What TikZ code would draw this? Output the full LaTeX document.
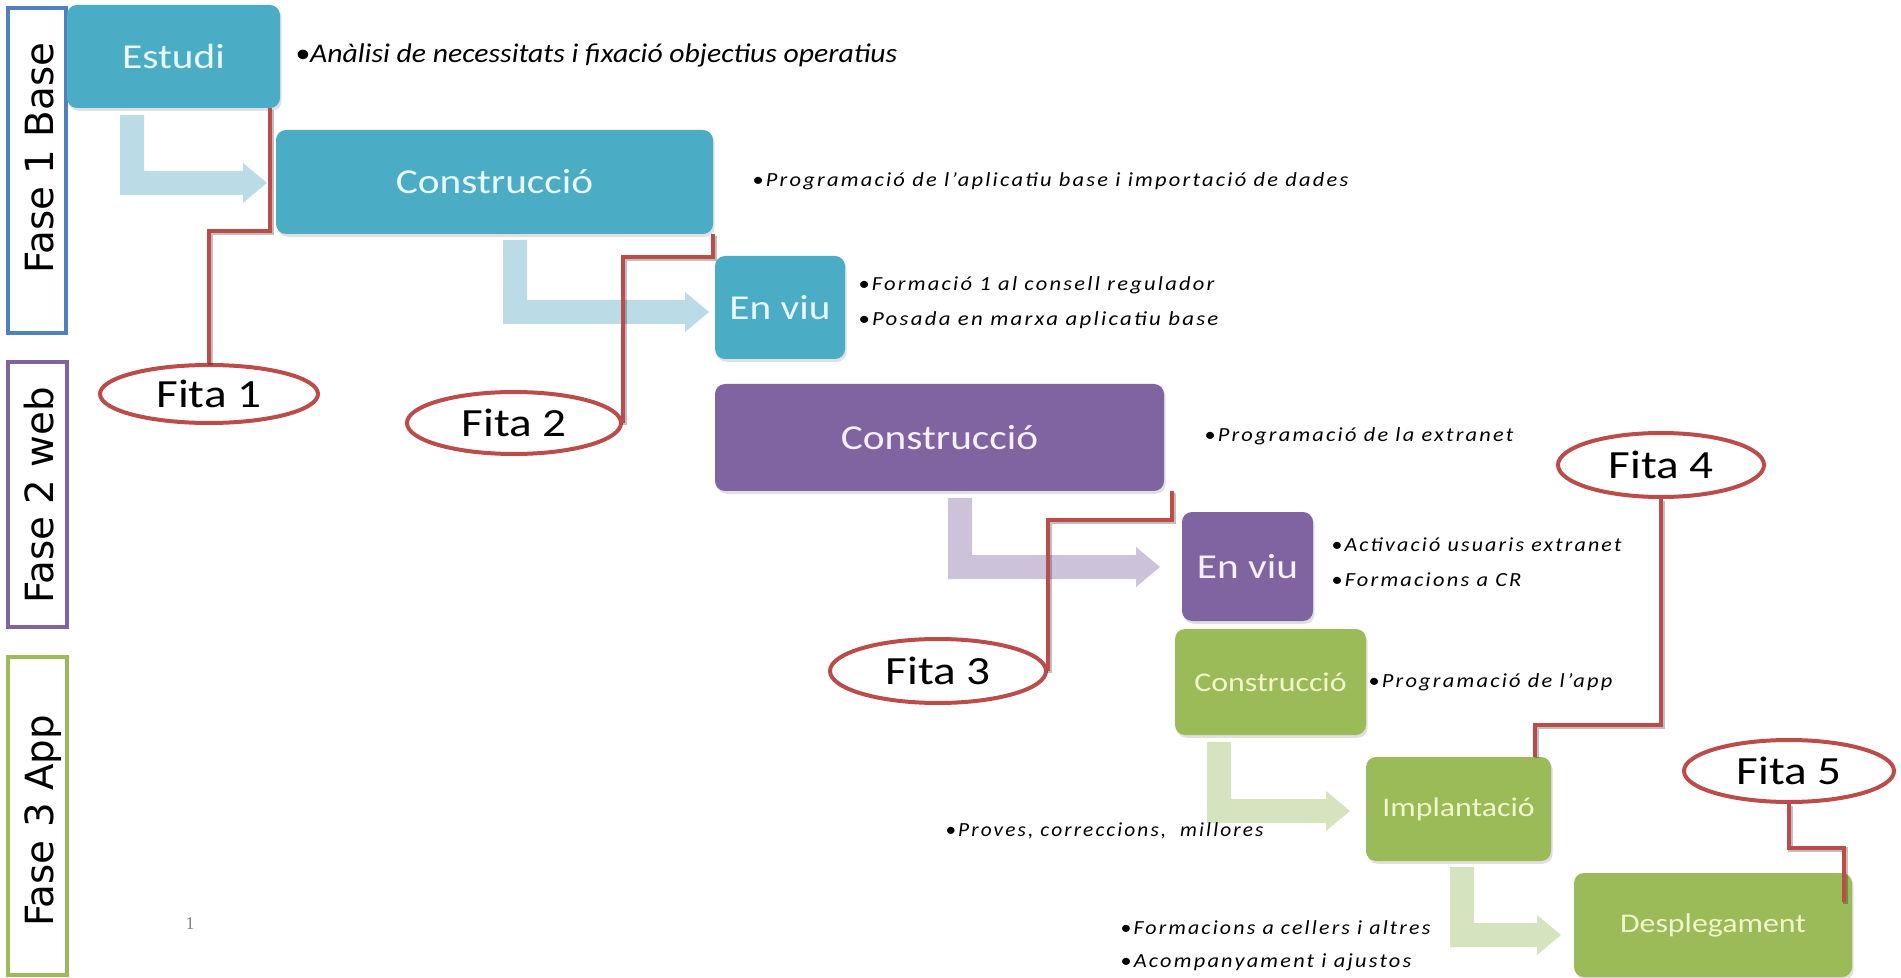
\documentclass[tikz,border=0pt]{standalone}
\usepackage{fontspec}
\usepackage{graphicx}
\setmainfont{Carlito}
\newfontfamily\fasefont{DejaVu Sans}
\newfontfamily\bulfont[LetterSpace=10]{Carlito}
\newfontfamily\numfont{Liberation Serif}
\usetikzlibrary{shapes.geometric}
\definecolor{cblue}{HTML}{4BACC6}
\definecolor{cpurp}{HTML}{8064A2}
\definecolor{cgreen}{HTML}{9BBB59}
\definecolor{cred}{HTML}{BC4C4A}
\definecolor{faseA}{HTML}{4F81BD}
\definecolor{ablue}{HTML}{BBDCE6}
\definecolor{apurp}{HTML}{CCC3DB}
\definecolor{agreen}{HTML}{D6E3BF}
\definecolor{tblue}{HTML}{EAF7FB}
\definecolor{tpurp}{HTML}{F6F0FA}
\definecolor{tgreen}{HTML}{F1F6CC}
\newcommand{\hs}[1]{\scalebox{1.18}[1]{#1}}
\newcommand{\bul}[2]{\resizebox{#1}{\height}{\bulfont\itshape\fontsize{10pt}{12pt}\selectfont #2}}
\newcommand{\barrow}[5]{\fill[#5] (#1,#2) -- ({#1+24},#2) -- ({#1+24},{#3-24}) -- ({#4-24},{#3-24}) -- ({#4-24},{#3-32}) -- (#4,{#3-12}) -- ({#4-24},{#3+8}) -- ({#4-24},#3) -- (#1,#3) -- cycle;}
\tikzset{
  box/.style={rounded corners=5pt, inner sep=0pt, align=center,
    preaction={fill=black, opacity=0.12, transform canvas={xshift=0.8pt,yshift=-1.4pt}}},
  bluebox/.style={box, fill=cblue, text=tblue, font=\fontsize{17.5pt}{20pt}\selectfont},
  purpbox/.style={box, fill=cpurp, text=tpurp, font=\fontsize{17.5pt}{20pt}\selectfont},
  greenbox/.style={box, fill=cgreen, text=tgreen, font=\fontsize{13.5pt}{16pt}\selectfont},
  fita/.style={ellipse, draw=cred, line width=2pt, fill=white, inner sep=0pt, font=\fontsize{20pt}{24pt}\selectfont},
  mile/.style={draw=cred, line width=2.2pt,
    preaction={draw=black, opacity=0.25, line width=2.2pt, transform canvas={xshift=0.8pt,yshift=-0.8pt}}},
  fasebox/.style={draw=#1, line width=1.6pt, inner sep=0pt},
  fasetext/.style={rotate=90, anchor=base, inner sep=0pt, font=\fasefont\fontsize{19.4pt}{22pt}\selectfont},
  bullet/.style={anchor=west, inner sep=0pt}
}
\begin{document}
\begin{tikzpicture}[x=0.5pt,y=-0.5pt]
\useasboundingbox (0,0) rectangle (1901,978);
\fill[white] (0,0) rectangle (1901,978);

% phase frames
\node[fasebox=faseA, minimum width=29pt, minimum height=162.5pt] (fb1) at (37,170.5) {};
\node[fasebox=cpurp, minimum width=29.5pt, minimum height=132.5pt] (fb2) at (37.5,494.5) {};
\node[fasebox=cgreen, minimum width=29.5pt, minimum height=159pt] (fb3) at (37.5,816) {};
\node[fasetext] (ft1) at (54,158) {Fase 1 Base};
\node[fasetext] (ft2) at (54,495) {Fase 2 web};
\node[fasetext] (ft3) at (54,821) {Fase 3 App};

% bent block arrows
\barrow{120}{115}{195}{267}{ablue}
\barrow{503}{240}{324}{709}{ablue}
\barrow{948}{498}{579}{1160}{apurp}
\barrow{1207}{742}{823}{1350}{agreen}
\barrow{1450}{867}{947}{1561}{agreen}

% boxes
\node[bluebox, minimum width=106.5pt, minimum height=51.5pt] (estudi) at (173.5,56.5) {\hs{Estudi}};
\node[bluebox, minimum width=218.5pt, minimum height=52pt] (con1) at (494.5,182) {\hs{Construcció}};
\node[bluebox, minimum width=65pt, minimum height=51.5pt] (viu1) at (780,307.5) {\hs{En viu}};
\node[purpbox, minimum width=224.5pt, minimum height=53.5pt] (con2) at (939.5,437.5) {\hs{Construcció}};
\node[purpbox, minimum width=65.5pt, minimum height=54.5pt] (viu2) at (1247.5,566.5) {\hs{En viu}};
\node[greenbox, minimum width=95.5pt, minimum height=53pt] (con3) at (1270.5,682) {\hs{Construcció}};
\node[greenbox, minimum width=92.5pt, minimum height=52pt] (impl) at (1458.5,809) {\hs{Implantació}};
\node[greenbox, minimum width=139pt, minimum height=52pt] (desp) at (1713,925) {\hs{Desplegament}};

% milestones
\node[fita, minimum width=109pt, minimum height=29pt] (f1) at (209,394) {\hs{Fita 1}};
\node[fita, minimum width=107pt, minimum height=31pt] (f2) at (514,423) {\hs{Fita 2}};
\node[fita, minimum width=108pt, minimum height=32pt] (f3) at (938,671) {\hs{Fita 3}};
\node[fita, minimum width=103pt, minimum height=32pt] (f4) at (1661,465) {\hs{Fita 4}};
\node[fita, minimum width=105pt, minimum height=31pt] (f5) at (1789,771) {\hs{Fita 5}};

\coordinate (k1) at (270,231);
\coordinate (k2) at (713,257);
\coordinate (k3) at (1172,520);
\coordinate (k4) at (1535,725);
\coordinate (k5) at (1844,848);
\coordinate (k5e) at (1844,902);
\draw[mile] (f1.north) |- (k1) -- (k1 |- estudi.south);
\draw[mile] (f2.east) |- (k2) -- (k2 |- con1.south);
\draw[mile] (f3.east) |- (k3) -- (k3 |- con2.south);
\draw[mile] (f4.south) |- (k4) -- (k4 |- impl.north);
\draw[mile] (f5.south) |- (k5) -- (k5e);

% bullet texts
\node[bullet] (b1) at (295,55) {\resizebox{301pt}{\height}{\fontsize{13.5pt}{16pt}\selectfont\itshape •Anàlisi de necessitats i fixació objectius operatius}};
\node[bullet] (b2) at (752,181) {\bul{298pt}{•Programació de l’aplicatiu base i importació de dades}};
\node[bullet] (b3) at (858,285) {\bul{178pt}{•Formació 1 al consell regulador}};
\node[bullet] (b4) at (858,320) {\bul{180pt}{•Posada en marxa aplicatiu base}};
\node[bullet] (b5) at (1204,436) {\bul{154.5pt}{•Programació de la extranet}};
\node[bullet] (b6) at (1331,545) {\bul{145pt}{•Activació usuaris extranet}};
\node[bullet] (b7) at (1331,580) {\bul{95pt}{•Formacions a CR}};
\node[bullet] (b8) at (1368,682) {\bul{122pt}{•Programació de l’app}};
\node[bullet] (b9) at (945,831) {\bul{159pt}{•Proves, correccions,\ \ millores}};
\node[bullet] (b10) at (1120,928) {\bul{155pt}{•Formacions a cellers i altres}};
\node[bullet] (b11) at (1120,962) {\bul{145.5pt}{•Acompanyament i ajustos}};

\node[text=gray, inner sep=0pt] (pg) at (190,924) {\numfont\fontsize{9pt}{10pt}\selectfont 1};
\end{tikzpicture}
\end{document}
